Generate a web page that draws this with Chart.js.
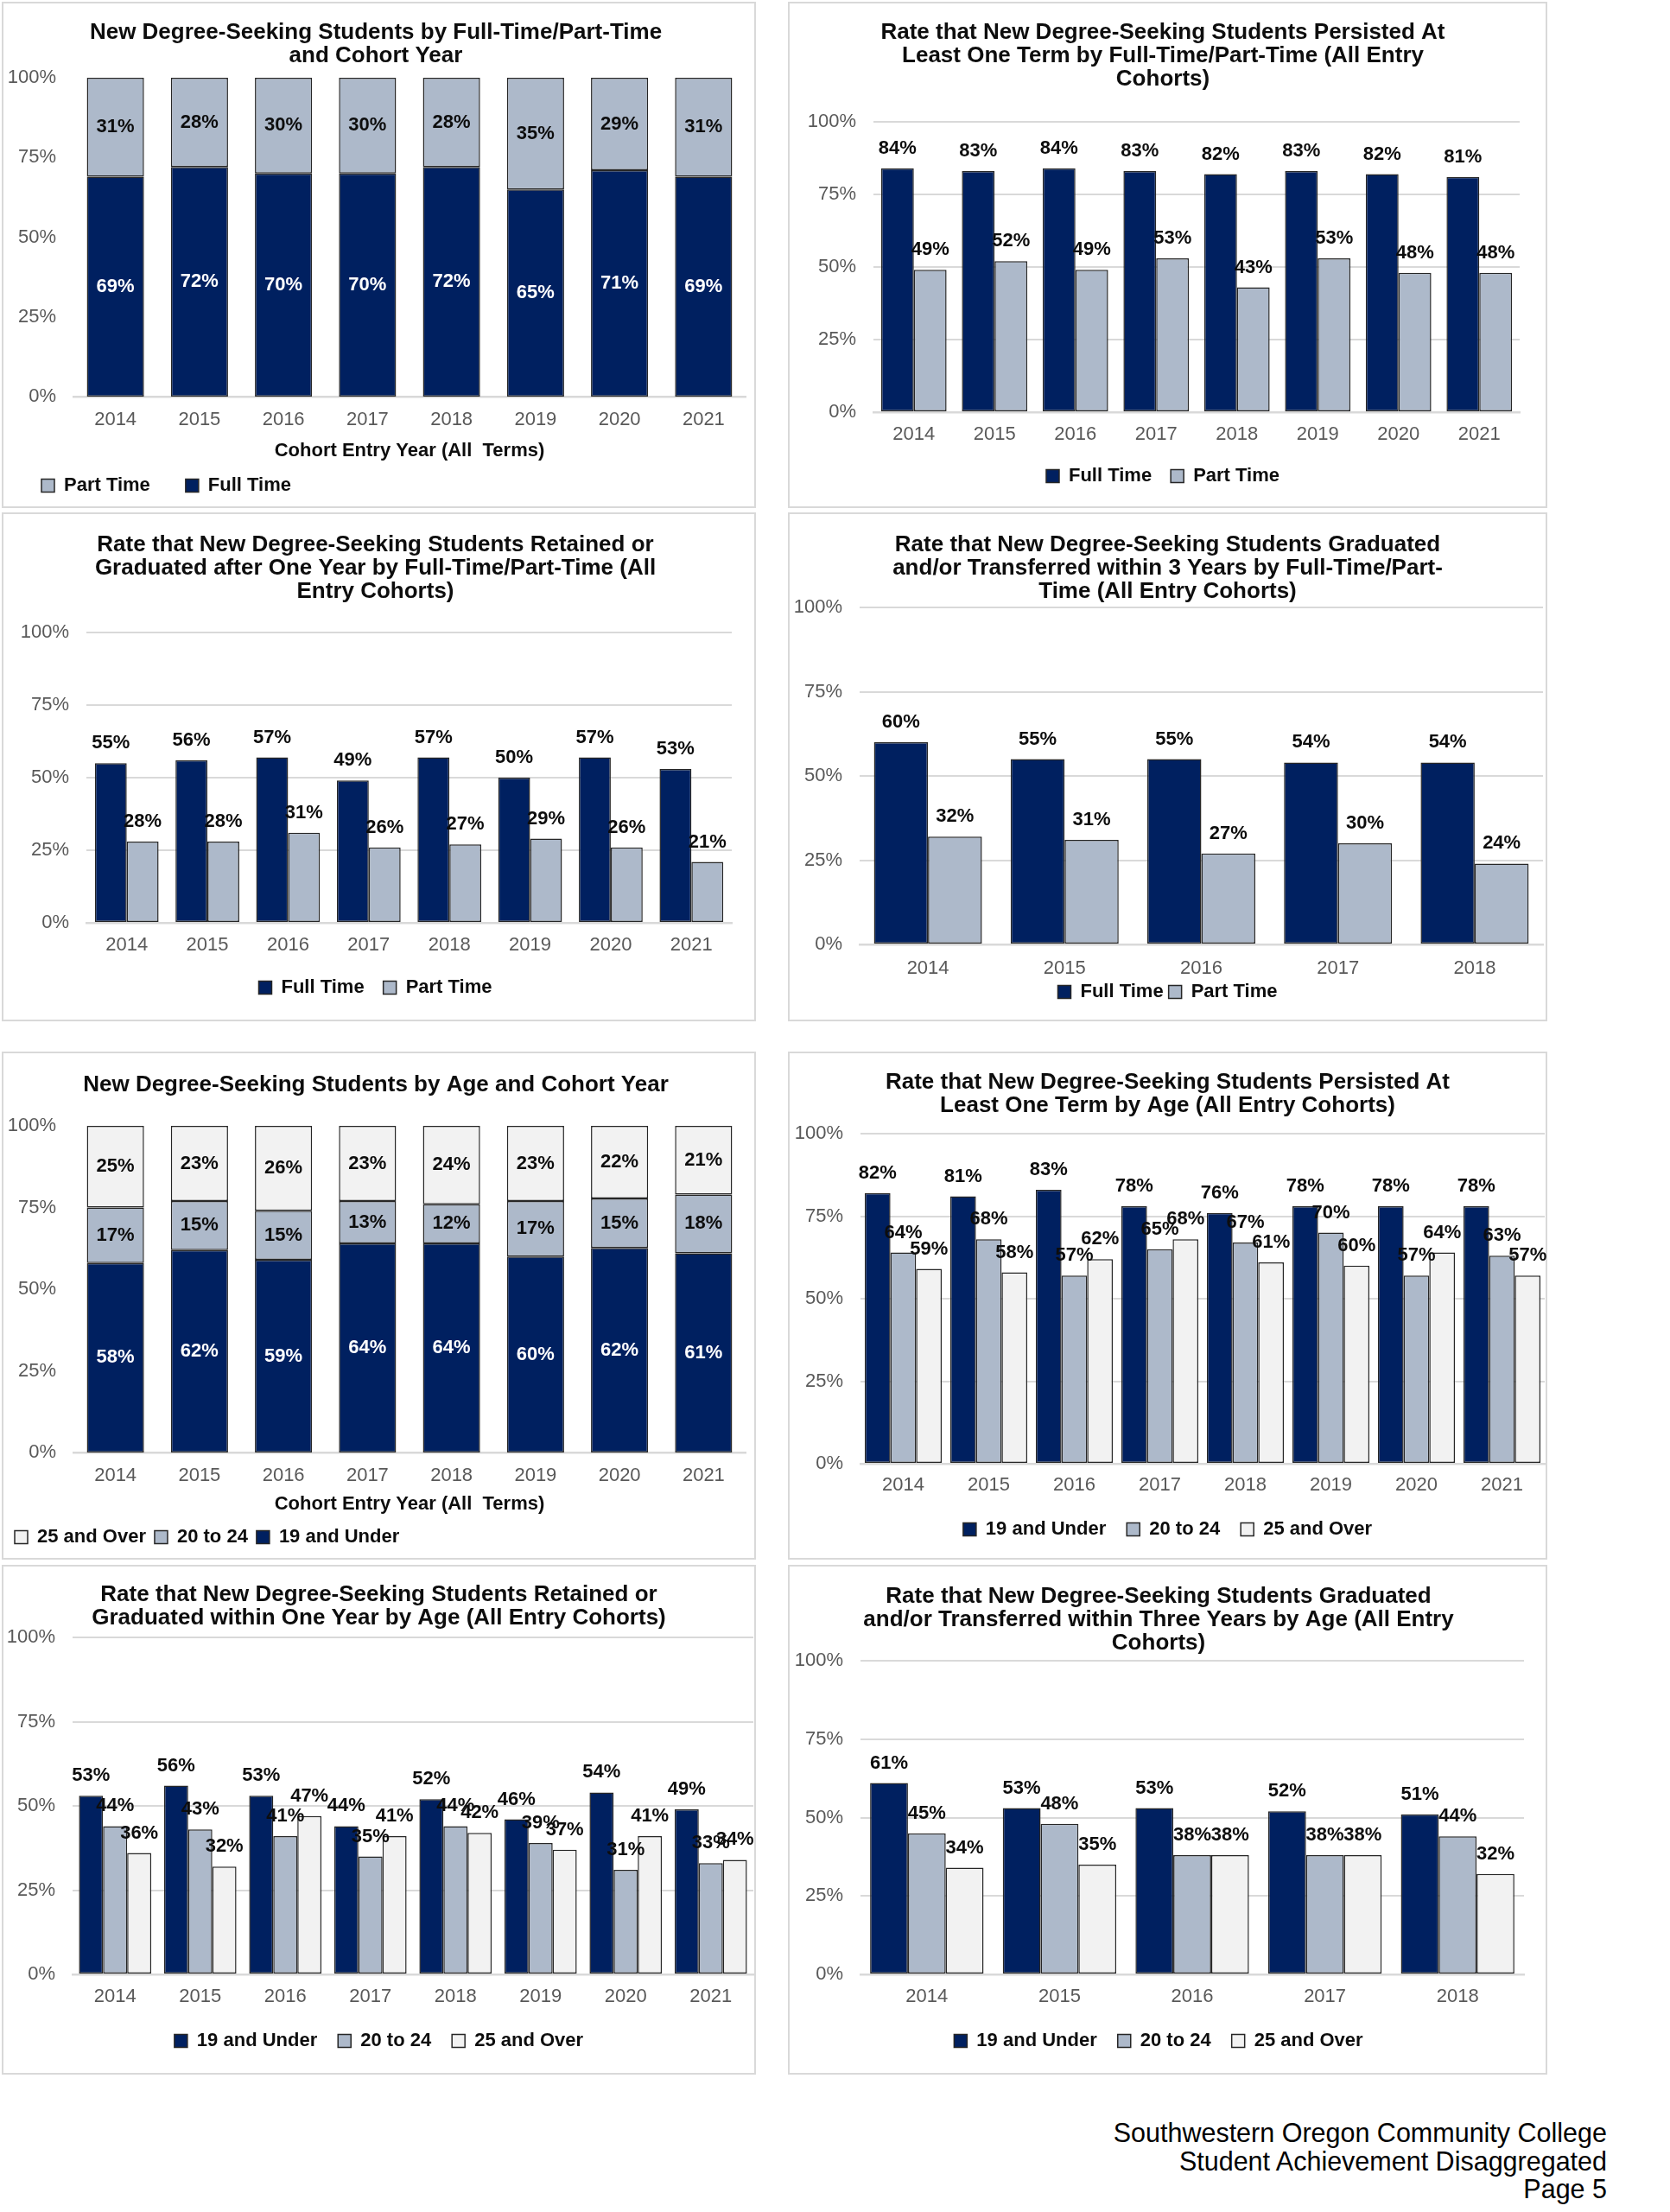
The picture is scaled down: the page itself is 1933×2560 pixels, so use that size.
<!DOCTYPE html>
<html lang="en">
<head>
<meta charset="utf-8">
<title>Student Achievement Disaggregated – Page 5</title>
<script src="https://cdn.jsdelivr.net/npm/chart.js@4.4.1/dist/chart.umd.min.js"></script>
<style>
  html, body { margin:0; padding:0; background:#ffffff; }
  body { position:relative; width:1933px; height:2560px; overflow:hidden; font-family:'Liberation Sans', Arial, Helvetica, sans-serif; }
  .frame { position:absolute; box-sizing:border-box; border:2px solid #d9d9d9; }
  canvas.chart { position:absolute; }
  #footer { position:absolute; right:73px; top:2452px; text-align:right; font-size:30.5px; line-height:32.7px; color:#000; }
</style>
</head>
<body>
<div id="footer">Southwestern Oregon Community College<br>Student Achievement Disaggregated<br>Page 5</div>
<script>
// ---------------- data ----------------
const YEARS_8 = ['2014', '2015', '2016', '2017', '2018', '2019', '2020', '2021'];
const YEARS_5 = ['2014', '2015', '2016', '2017', '2018'];
const PCT_STEPS = [0, 25, 50, 75, 100];
const PCT_TICKS = ['0%', '25%', '50%', '75%', '100%'];

// New degree-seeking students by FT/PT (share of cohort, %)
const shareFullTime = [69, 72, 70, 70, 72, 65, 71, 69];
const sharePartTime = [31, 28, 30, 30, 28, 35, 29, 31];
// Persisted at least one term by FT/PT (%)
const persistFullTime = [84, 83, 84, 83, 82, 83, 82, 81];
const persistPartTime = [49, 52, 49, 53, 43, 53, 48, 48];
// Retained or graduated after one year by FT/PT (%)
const retainFullTime = [55, 56, 57, 49, 57, 50, 57, 53];
const retainPartTime = [28, 28, 31, 26, 27, 29, 26, 21];
// Graduated and/or transferred within 3 years by FT/PT (%)
const gradFullTime = [60, 55, 55, 54, 54];
const gradPartTime = [32, 31, 27, 30, 24];
// New degree-seeking students by age (share of cohort, %)
const shareUnder20 = [58, 62, 59, 64, 64, 60, 62, 61];
const share20to24 = [17, 15, 15, 13, 12, 17, 15, 18];
const share25plus = [25, 23, 26, 23, 24, 23, 22, 21];
// Persisted at least one term by age (%)
const persistUnder20 = [82, 81, 83, 78, 76, 78, 78, 78];
const persist20to24 = [64, 68, 57, 65, 67, 70, 57, 63];
const persist25plus = [59, 58, 62, 68, 61, 60, 64, 57];
// Retained or graduated within one year by age (%)
const retainUnder20 = [53, 56, 53, 44, 52, 46, 54, 49];
const retain20to24 = [44, 43, 41, 35, 44, 39, 31, 33];
const retain25plus = [36, 32, 47, 41, 42, 37, 41, 34];
// Graduated and/or transferred within three years by age (%)
const gradUnder20 = [61, 53, 53, 52, 51];
const grad20to24 = [45, 48, 38, 38, 44];
const grad25plus = [34, 35, 38, 38, 32];

// ---------------- styles ----------------
const FONT = "'Liberation Sans', Arial, Helvetica, sans-serif";
const NAVY = '#002060', SLATE = '#ADB9CA', PALE = '#F2F2F2', EDGE = '#262626';
const GRID = '#d9d9d9', TICK = '#595959', INK = '#0d0d0d';
const FS_TITLE = 26, LH_TITLE = 27, FS_TICK = 22, FS_LEGEND = 22, FS_XTITLE = 22, FS_VALUE = 22;
const Y_LABEL_ROOM = 78;

Chart.defaults.font.family = FONT;
Chart.defaults.animation = false;

// value labels drawn from the bar elements the library positioned
const pctLabelPlugin = {
  id: 'pctLabels',
  afterDatasetsDraw(chart, args, opts) {
    const ctx = chart.ctx;
    ctx.save();
    ctx.font = 'bold ' + opts.size + 'px ' + FONT;
    ctx.textAlign = 'center';
    ctx.textBaseline = 'middle';
    chart.data.datasets.forEach((ds, di) => {
      if (!chart.isDatasetVisible(di)) return;
      chart.getDatasetMeta(di).data.forEach((bar, i) => {
        const p = bar.getProps(['x', 'y', 'base'], true);
        const y = opts.inside ? (p.y + p.base) / 2 : p.y - opts.offset;
        ctx.fillStyle = ds.pctColor;
        ctx.fillText(ds.pctText[i] + '%', p.x, y);
      });
    });
    ctx.restore();
  }
};

function makeSeries(list, stacked, catPct) {
  const n = list[0][1].length;
  const totals = Array.from({length: n}, (_, i) => list.reduce((s, it) => s + it[1][i], 0));
  return list.map(([label, values, fill, textColor]) => ({
    label,
    data: stacked ? values.map((v, i) => v / totals[i] * 100) : values.slice(),
    pctText: values,
    pctColor: textColor,
    backgroundColor: fill,
    borderColor: EDGE,
    borderWidth: 1.5,
    borderSkipped: false,
    categoryPercentage: catPct,
    barPercentage: 1
  }));
}

function buildChart(cfg) {
  const {panel, plot} = cfg;
  const frame = document.createElement('div');
  frame.className = 'frame';
  Object.assign(frame.style, {left: panel.x + 'px', top: panel.y + 'px', width: panel.w + 'px', height: panel.h + 'px'});
  document.body.appendChild(frame);

  const canvas = document.createElement('canvas');
  canvas.className = 'chart';
  canvas.width = panel.w; canvas.height = panel.h;
  Object.assign(canvas.style, {left: panel.x + 'px', top: panel.y + 'px', width: panel.w + 'px', height: panel.h + 'px'});
  document.body.appendChild(canvas);

  const lp = cfg.legendPad;
  const lhTick = FS_TICK * 1.2, lhXT = FS_XTITLE * 1.2;
  const padRight = Math.max(0, panel.x + panel.w - plot.r);
  const maxPadLeft = plot.l - panel.x - Y_LABEL_ROOM;
  const padLeft = Math.max(0, cfg.legendX != null ? Math.min(maxPadLeft, cfg.legendX - panel.x - lp) : Math.min(padRight, maxPadLeft));
  const padTop = cfg.titleY - panel.y - LH_TITLE / 2;
  const titlePadBottom = plot.t - panel.y - padTop - cfg.title.length * LH_TITLE;
  const padBottom = panel.y + panel.h - cfg.legendY - FS_LEGEND / 2 - 10;
  const legendTop = panel.y + panel.h - padBottom - (FS_LEGEND + lp + 10);
  const xHeight = legendTop - plot.b;
  const xTickPad = cfg.tickY - plot.b - lhTick / 2;
  const yWidth = plot.l - panel.x - padLeft;
  const xTitlePad = cfg.xTitle ? plot.b + xHeight - lhXT / 2 - cfg.xTitleY : 0;

  return new Chart(canvas, {
    type: 'bar',
    data: { labels: cfg.categories, datasets: makeSeries(cfg.series, cfg.stacked, cfg.catPct) },
    plugins: [pctLabelPlugin],
    options: {
      responsive: false,
      devicePixelRatio: 1,
      animation: false,
      layout: { padding: { top: padTop, bottom: padBottom, left: padLeft, right: padRight } },
      scales: {
        x: {
          stacked: !!cfg.stacked,
          offset: true,
          grid: { display: false, drawTicks: false },
          border: { display: true, color: GRID, width: 2.5 },
          ticks: { color: TICK, font: { size: FS_TICK }, padding: xTickPad, maxRotation: 0, autoSkip: false },
          title: cfg.xTitle ? { display: true, text: cfg.xTitle, color: INK, font: { size: FS_XTITLE, weight: 'bold' }, padding: { top: 0, bottom: xTitlePad } } : { display: false },
          afterFit: (s) => { s.height = xHeight; }
        },
        y: {
          stacked: !!cfg.stacked,
          min: 0, max: 100,
          grid: { display: !cfg.stacked, color: GRID, lineWidth: 2, drawTicks: false },
          border: { display: false },
          ticks: { stepSize: 25, color: TICK, font: { size: FS_TICK }, padding: 20,
                   callback: (v) => PCT_TICKS[PCT_STEPS.indexOf(v)] },
          afterFit: (s) => { s.width = yWidth; }
        }
      },
      plugins: {
        title: { display: true, text: cfg.title, color: INK,
                 font: { size: FS_TITLE, weight: 'bold', lineHeight: LH_TITLE / FS_TITLE },
                 padding: { top: 0, bottom: titlePadBottom } },
        legend: {
          display: true, position: 'bottom', align: cfg.legendX != null ? 'start' : 'center',
          reverse: !!cfg.legendReverse,
          labels: { color: INK, font: { size: FS_LEGEND, weight: 'bold' }, boxWidth: 15, boxHeight: 15, padding: lp }
        },
        tooltip: { enabled: false },
        pctLabels: { inside: !!cfg.stacked, offset: 23, size: FS_VALUE }
      }
    }
  });
}

const chartConfigs = [
  { panel: {x: 2, y: 2, w: 873, h: 586}, plot: {l: 85, t: 90, r: 863, b: 459},
    title: ['New Degree-Seeking Students by Full-Time/Part-Time', 'and Cohort Year'], titleY: 38,
    tickY: 486, xTitle: 'Cohort Entry Year (All  Terms)', xTitleY: 522,
    legendY: 562, legendX: 55, legendPad: 41, legendReverse: true,
    stacked: true, catPct: 0.68, categories: YEARS_8,
    series: [['Full Time', shareFullTime, NAVY, '#ffffff'], ['Part Time', sharePartTime, SLATE, INK]] },
  { panel: {x: 912, y: 2, w: 879, h: 586}, plot: {l: 1011, t: 141, r: 1759, b: 477},
    title: ['Rate that New Degree-Seeking Students Persisted At', 'Least One Term by Full-Time/Part-Time (All Entry', 'Cohorts)'], titleY: 38,
    tickY: 503, legendY: 551, legendPad: 22,
    catPct: 0.81, categories: YEARS_8,
    series: [['Full Time', persistFullTime, NAVY, INK], ['Part Time', persistPartTime, SLATE, INK]] },
  { panel: {x: 2, y: 593, w: 873, h: 589}, plot: {l: 100, t: 732, r: 847, b: 1068},
    title: ['Rate that New Degree-Seeking Students Retained or', 'Graduated after One Year by Full-Time/Part-Time (All', 'Entry Cohorts)'], titleY: 631,
    tickY: 1094, legendY: 1143, legendPad: 22,
    catPct: 0.79, categories: YEARS_8,
    series: [['Full Time', retainFullTime, NAVY, INK], ['Part Time', retainPartTime, SLATE, INK]] },
  { panel: {x: 912, y: 593, w: 879, h: 589}, plot: {l: 995, t: 703, r: 1786, b: 1093},
    title: ['Rate that New Degree-Seeking Students Graduated', 'and/or Transferred within 3 Years by Full-Time/Part-', 'Time (All Entry Cohorts)'], titleY: 631,
    tickY: 1121, legendY: 1148, legendPad: 6,
    catPct: 0.79, categories: YEARS_5,
    series: [['Full Time', gradFullTime, NAVY, INK], ['Part Time', gradPartTime, SLATE, INK]] },
  { panel: {x: 2, y: 1217, w: 873, h: 588}, plot: {l: 85, t: 1303, r: 863, b: 1681},
    title: ['New Degree-Seeking Students by Age and Cohort Year'], titleY: 1256,
    tickY: 1708, xTitle: 'Cohort Entry Year (All  Terms)', xTitleY: 1741,
    legendY: 1779, legendX: 17, legendPad: 10, legendReverse: true,
    stacked: true, catPct: 0.68, categories: YEARS_8,
    series: [['19 and Under', shareUnder20, NAVY, '#ffffff'], ['20 to 24', share20to24, SLATE, INK], ['25 and Over', share25plus, PALE, INK]] },
  { panel: {x: 912, y: 1217, w: 879, h: 588}, plot: {l: 996, t: 1312, r: 1788, b: 1694},
    title: ['Rate that New Degree-Seeking Students Persisted At', 'Least One Term by Age (All Entry Cohorts)'], titleY: 1253,
    tickY: 1719, legendY: 1770, legendPad: 24,
    catPct: 0.9, categories: YEARS_8,
    series: [['19 and Under', persistUnder20, NAVY, INK], ['20 to 24', persist20to24, SLATE, INK], ['25 and Over', persist25plus, PALE, INK]] },
  { panel: {x: 2, y: 1811, w: 873, h: 590}, plot: {l: 84, t: 1895, r: 872, b: 2285},
    title: ['Rate that New Degree-Seeking Students Retained or', 'Graduated within One Year by Age (All Entry Cohorts)'], titleY: 1846,
    tickY: 2311, legendY: 2362, legendPad: 24,
    catPct: 0.85, categories: YEARS_8,
    series: [['19 and Under', retainUnder20, NAVY, INK], ['20 to 24', retain20to24, SLATE, INK], ['25 and Over', retain25plus, PALE, INK]] },
  { panel: {x: 912, y: 1811, w: 879, h: 590}, plot: {l: 996, t: 1922, r: 1764, b: 2285},
    title: ['Rate that New Degree-Seeking Students Graduated', 'and/or Transferred within Three Years by Age (All Entry', 'Cohorts)'], titleY: 1848,
    tickY: 2311, legendY: 2362, legendPad: 24,
    catPct: 0.855, categories: YEARS_5,
    series: [['19 and Under', gradUnder20, NAVY, INK], ['20 to 24', grad20to24, SLATE, INK], ['25 and Over', grad25plus, PALE, INK]] }
];

chartConfigs.forEach(buildChart);
</script>
</body>
</html>
